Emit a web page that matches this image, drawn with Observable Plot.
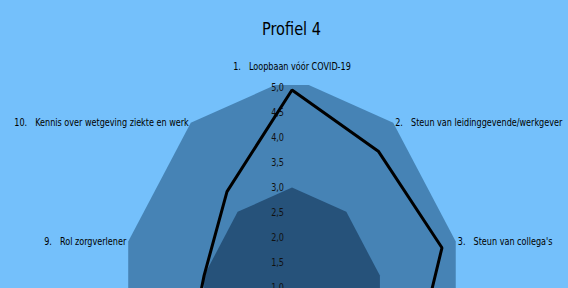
<!DOCTYPE html>
<html>
<head>
<meta charset="utf-8">
<script src="https://cdn.jsdelivr.net/npm/d3@7"></script>
<script src="https://cdn.jsdelivr.net/npm/@observablehq/plot@0.6"></script>
<style>
  html, body { margin: 0; padding: 0; background: #74c0fb; overflow: hidden; }
  svg { display: block; }
</style>
</head>
<body>
<div id="chart"></div>
<script>
// ---- data ----
const title = "Profiel 4";
const categories = [
  "Loopbaan vóór COVID-19",
  "Steun van leidinggevende/werkgever",
  "Steun van collega's",
  null, null, null, null, null,           // axes 4–8 lie below the visible area
  "Rol zorgverlener",
  "Kennis over wetgeving ziekte en werk"
];
const profileValues = [4.95, 4.5, 4.8, 3.95, 3.5, 3.0, 3.0, 3.5, 3.0, 3.5];
const outerBand = [5.2, 5.2, 5.2, 5.2, 5.2, 5.2, 5.2, 5.2, 5.2, 5.2];
const innerBand = [3.0, 3.0, 3.0, 3.0, 3.0, 3.0, 3.0, 3.0, 3.0, 3.0];
const tickValues = [1.0, 1.5, 2.0, 2.5, 3.0, 3.5, 4.0, 4.5, 5.0];
const labelRadius = 5.2;
const radialMin = 0.45;   // value at the centre of the radar

// ---- polar helpers ----
const n = categories.length;
const ang = i => (i * 2 * Math.PI) / n;
const toXY = (v, i) => ({x: (v - radialMin) * Math.sin(ang(i)), y: (v - radialMin) * Math.cos(ang(i))});
const ring = vals => vals.map((v, i) => ({...toXY(v, i), v, i}));

const outerPts = ring(outerBand);
const innerPts = ring(innerBand);
const profilePts = ring(profileValues);
const ticks = tickValues.map(t => ({...toXY(t, 0), t}));
const labels = categories
  .map((c, i) => c ? {...toXY(labelRadius, i), text: `${i + 1}.\u2003${c}`, s: Math.sin(ang(i))} : null)
  .filter(d => d);

const font = "'DejaVu Sans Condensed', 'Liberation Sans Narrow', sans-serif";
const fmt = d3.format(".1f");

const chart = Plot.plot({
  width: 568,
  height: 288,
  marginTop: 85,
  marginBottom: 0,
  marginLeft: 0,
  marginRight: 0,
  style: {background: "#74c0fb", fontFamily: font},
  x: {domain: [-8.041, 7.628], axis: null},
  y: {domain: [0.53, 4.59], axis: null},
  marks: [
    Plot.line(outerPts, {x: "x", y: "y", curve: "linear-closed", fill: "#4683b5", stroke: "none", clip: true}),
    Plot.line(innerPts, {x: "x", y: "y", curve: "linear-closed", fill: "#26527a", stroke: "none", clip: true}),
    Plot.text(ticks, {x: "x", y: "y", text: d => fmt(d.t).replace(".", ","), textAnchor: "end", dx: -8, fontSize: 10, fill: "#111"}),
    Plot.line(profilePts, {x: "x", y: "y", curve: "linear-closed", stroke: "#000", strokeWidth: 3, strokeLinejoin: "miter", clip: true}),
    Plot.text(labels.filter(d => Math.abs(d.s) < 0.1), {x: "x", y: "y", text: "text", textAnchor: "middle", dy: -11, fontSize: 10, fill: "#000"}),
    Plot.text(labels.filter(d => d.s >= 0.1), {x: "x", y: "y", text: "text", textAnchor: "start", dx: 2, fontSize: 10, fill: "#000"}),
    Plot.text(labels.filter(d => d.s <= -0.1), {x: "x", y: "y", text: "text", textAnchor: "end", dx: -2, fontSize: 10, fill: "#000"}),
    Plot.text([title], {frameAnchor: "top", dx: 7, dy: -63, fontSize: 18, fill: "#000", text: d => d, ariaLabel: "title"})
  ]
});
document.getElementById("chart").append(chart);

// condense all texts horizontally (the reference uses a narrow face)
chart.querySelectorAll("text").forEach(t => {
  const isTitle = t.closest("g[aria-label='title']") !== null;
  const sx = isTitle ? 0.83 : 0.9;
  let tr = t.getAttribute("transform");
  if (!tr) {
    const x = +(t.getAttribute("x") || 0), y = +(t.getAttribute("y") || 0);
    t.removeAttribute("x"); t.removeAttribute("y");
    tr = `translate(${x},${y})`;
  }
  t.setAttribute("transform", `${tr} scale(${sx},1)`);
});
</script>
</body>
</html>
